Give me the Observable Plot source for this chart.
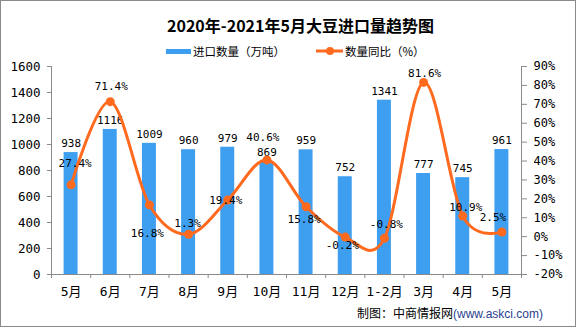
<!DOCTYPE html>
<html><head><meta charset="utf-8">
<script src="https://cdn.jsdelivr.net/npm/d3@7"></script>
<script src="https://cdn.jsdelivr.net/npm/@observablehq/plot@0.6"></script>
<style>
html,body{margin:0;padding:0;background:#fff;}
#wrap{position:relative;width:576px;height:327px;overflow:hidden;background:#fff;}
#chart{position:absolute;left:0;top:0;}
#frame{position:absolute;left:0;top:0;width:576px;height:327px;box-sizing:border-box;border:1px solid #8a8a8a;pointer-events:none;}
#title{position:absolute;left:0;top:13px;width:601px;text-align:center;font-weight:bold;font-size:16px;line-height:24px;font-family:"Noto Sans CJK SC",sans-serif;white-space:nowrap;color:#000;}
.legtext{position:absolute;top:43px;line-height:16px;font-size:11.5px;font-family:"Noto Sans CJK SC",sans-serif;white-space:nowrap;color:#000;}
#credit{position:absolute;left:357px;top:305px;line-height:16px;font-size:12px;font-family:"Noto Sans CJK SC",sans-serif;white-space:nowrap;color:#000;}
#credit span{font-family:"Liberation Sans",sans-serif;color:#2b3f8f;}
</style>
</head><body>
<div id="wrap">
  <div id="chart"></div>
  <div id="title"></div>
  <div id="leg1sw" style="position:absolute;left:166px;top:48.5px;width:25px;height:5px;background:#3e9ef0;"></div>
  <div id="leg1" class="legtext" style="left:193px;"></div>
  <svg style="position:absolute;left:314px;top:45px;" width="32" height="12"><line x1="2" y1="6" x2="29" y2="6" stroke="#ff6a1f" stroke-width="3"/><circle cx="16" cy="6" r="4" fill="#ff6a1f"/></svg>
  <div id="leg2" class="legtext" style="left:345px;"></div>
  <div id="credit"></div>
  <div id="frame"></div>
</div>
<script>
// ---- data ----
const titleText = "2020年-2021年5月大豆进口量趋势图";
const legendLabels = ["进口数量（万吨）", "数量同比（%）"];
const creditText = "制图：中商情报网";
const creditUrl = "(www.askci.com)";
const months = ["5月","6月","7月","8月","9月","10月","11月","12月","1-2月","3月","4月","5月"];
const importVolume = [938,1116,1009,960,979,869,959,752,1341,777,745,961];
const yoyPct = [27.4,71.4,16.8,1.3,19.4,40.6,15.8,-0.2,-0.8,81.6,10.9,2.5];
const volumeTicks = [0,200,400,600,800,1000,1200,1400,1600];
const pctTicks = [-20,-10,0,10,20,30,40,50,60,70,80,90];

// ---- layout / style ----
const BLUE = "#3e9ef0", ORANGE = "#ff6a1f", GRAY = "#8a8a8a";
const VMAX = 1600, PMIN = -20, PMAX = 90;
const pctToV = p => (p - PMIN) / (PMAX - PMIN) * VMAX;
const vToPct = v => Math.round(v / VMAX * (PMAX - PMIN) + PMIN);
// label nudges [dx, dy] for the percentage labels
const pctNudge = [[4,-21],[1,-15],[-2,29],[-1,-11],[-2,0],[-4,-22],[-2,13],[-3,8],[2,-14],[1,-9],[3,-9],[-9,-14]];

document.getElementById("title").textContent = titleText;
document.getElementById("leg1").textContent = legendLabels[0];
document.getElementById("leg2").textContent = legendLabels[1];
document.getElementById("credit").innerHTML = creditText + "<span>" + creditUrl + "</span>";

const rows = months.map((m, i) => ({i, m, v: importVolume[i], p: yoyPct[i], pv: pctToV(yoyPct[i])}));
const cx = d => d.i + 0.5;
const monoFont = '"DejaVu Sans Mono","Noto Sans CJK SC",monospace';

const pctLabelMarks = rows.map((d, k) => Plot.text([d], {
  x: cx, y: "pv", text: r => r.p.toFixed(1) + "%",
  dx: pctNudge[k][0], dy: pctNudge[k][1], fontSize: 11, fill: "#000"
}));

const chart = Plot.plot({
  width: 576, height: 327,
  marginLeft: 51, marginRight: 55, marginTop: 66, marginBottom: 53,
  style: {fontFamily: monoFont, fontSize: "12px", color: "#000", background: "transparent", overflow: "visible"},
  x: {type: "linear", domain: [0, 12], axis: null},
  y: {domain: [0, VMAX], axis: null},
  marks: [
    Plot.rectY(rows, {x1: d => d.i, x2: d => d.i + 1, y: "v", fill: BLUE, insetLeft: 12.6, insetRight: 12.6}),
    Plot.frame({anchor: "left", stroke: GRAY}),
    Plot.frame({anchor: "right", stroke: GRAY}),
    Plot.frame({anchor: "bottom", stroke: GRAY}),
    Plot.axisY({anchor: "left", ticks: volumeTicks, tickSize: 4, tickPadding: 7, stroke: GRAY, fill: "#000", fontSize: 12.5, label: null, tickFormat: d => String(d)}),
    Plot.axisY({anchor: "right", ticks: pctTicks.map(pctToV), tickSize: 5, tickPadding: 7, stroke: GRAY, fill: "#000", fontSize: 12, label: null, tickFormat: d => vToPct(d) + "%"}),
    Plot.axisX({ticks: d3.range(13), tickSize: 4, stroke: GRAY, label: null, tickFormat: () => ""}),
    Plot.axisX({ticks: d3.range(12).map(i => i + 0.5), tickSize: 0, tickPadding: 12, fontSize: 13, fill: "#000", label: null, tickFormat: d => months[Math.floor(d)]}),
    Plot.text(rows, {x: cx, y: "v", text: d => String(d.v), dy: -9, fontSize: 11, fill: "#000"}),
    Plot.line(rows, {x: cx, y: "pv", stroke: ORANGE, strokeWidth: 3, curve: "cardinal"}),
    Plot.dot(rows, {x: cx, y: "pv", r: 4.5, fill: ORANGE}),
    ...pctLabelMarks
  ]
});
document.getElementById("chart").appendChild(chart);
</script>
</body></html>
